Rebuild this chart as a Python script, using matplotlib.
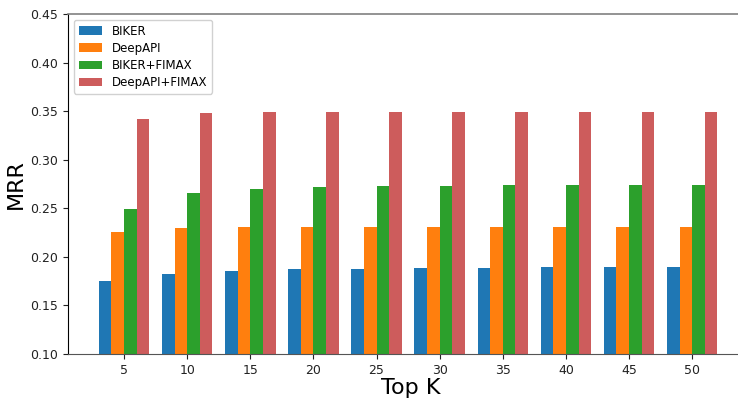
import numpy as np
import matplotlib
matplotlib.use("Agg")
import matplotlib.pyplot as plt

# data
top_k = [5, 10, 15, 20, 25, 30, 35, 40, 45, 50]
biker = [0.1755, 0.1827, 0.1858, 0.1872, 0.1878, 0.1882, 0.1885, 0.1891, 0.1892, 0.1893]
deepapi = [0.2253, 0.2297, 0.2310, 0.2310, 0.2310, 0.2310, 0.2310, 0.2310, 0.2310, 0.2310]
biker_fimax = [0.2493, 0.2654, 0.2702, 0.2722, 0.2729, 0.2733, 0.2736, 0.2740, 0.2743, 0.2743]
deepapi_fimax = [0.3416, 0.3478, 0.3491, 0.3491, 0.3491, 0.3491, 0.3491, 0.3491, 0.3491, 0.3491]

series = [
    ("BIKER", biker, "#1f77b4"),
    ("DeepAPI", deepapi, "#ff7f0e"),
    ("BIKER+FIMAX", biker_fimax, "#2ca02c"),
    ("DeepAPI+FIMAX", deepapi_fimax, "indianred"),
]

fig = plt.figure(figsize=(7.38, 3.98), dpi=100)
# the original figure looks cropped on the right, so the axes run past the edge
ax = fig.add_axes([68 / 738, 44 / 398, 686 / 738, 340 / 398])

x = np.array(top_k)
w = 1.0
for i, (name, vals, col) in enumerate(series):
    ax.bar(x + (i - 1.5) * w, vals, width=w, color=col, label=name)

ax.set_xlim(0.56, 54.9)
ax.set_ylim(0.10, 0.45)
ax.set_xticks(top_k)
ax.set_yticks(np.arange(0.10, 0.451, 0.05))
ax.yaxis.set_major_formatter(plt.FormatStrFormatter('%.2f'))
ax.tick_params(labelsize=9, length=3.5, colors='#222222')

ax.spines['right'].set_visible(False)
ax.spines['top'].set_color('gray')
ax.spines['top'].set_linewidth(1.2)
ax.spines['left'].set_color('black')
ax.spines['bottom'].set_color('#555555')

ax.set_xlabel('Top K', fontsize=16, labelpad=1)
ax.set_ylabel('MRR', fontsize=16, labelpad=3)

ax.legend(loc='upper left', fontsize=8.5, labelspacing=0.35,
          borderaxespad=0.5, framealpha=0.9)

fig.savefig('out.png', dpi=100)
